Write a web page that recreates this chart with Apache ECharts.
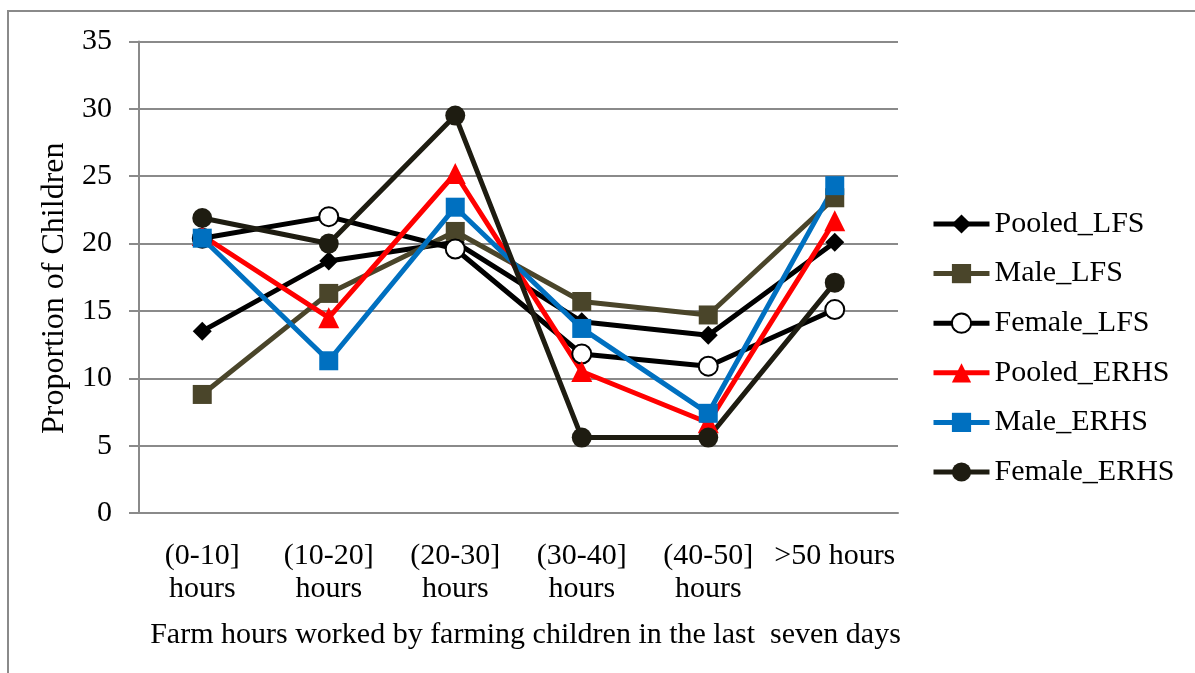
<!DOCTYPE html>
<html>
<head>
<meta charset="utf-8">
<script src="https://cdn.jsdelivr.net/npm/echarts@6/dist/echarts.min.js"></script>
<style>
  html, body { margin: 0; padding: 0; background: #fff; }
  #chart { width: 1195px; height: 673px; }
</style>
</head>
<body>
<div id="chart"></div>
<script>
// Share of farming children by weekly farm hours, LFS vs ERHS surveys
const categories = ['(0-10]\nhours', '(10-20]\nhours', '(20-30]\nhours', '(30-40]\nhours', '(40-50]\nhours', '>50 hours'];
const yTicks = [0, 5, 10, 15, 20, 25, 30, 35];

const pooledLFS   = [13.5, 18.7, 20.1, 14.2, 13.2, 20.1];
const maleLFS     = [8.8, 16.3, 20.9, 15.7, 14.7, 23.4];
const femaleLFS   = [20.4, 22.0, 19.6, 11.8, 10.9, 15.1];
const pooledERHS  = [20.6, 14.5, 25.2, 10.5, 6.7, 21.7];
const maleERHS    = [20.4, 11.3, 22.7, 13.7, 7.4, 24.3];
const femaleERHS  = [21.9, 20.0, 29.5, 5.6, 5.6, 17.1];

const FONT = '"Liberation Serif", "Times New Roman", serif';
const GRID_GRAY = '#8a8a8a';
const LINE_W = 5;

function lineSeries(name, data, lineColor, symbol, size, fill, border) {
  return {
    name: name,
    type: 'line',
    data: data,
    symbol: symbol,
    symbolSize: size,
    lineStyle: { color: lineColor, width: LINE_W },
    itemStyle: {
      color: fill || lineColor,
      borderColor: border || fill || lineColor,
      borderWidth: border ? 2 : 0
    },
    emphasis: { disabled: true },
    animation: false
  };
}

const chart = echarts.init(document.getElementById('chart'), null, { renderer: 'canvas' });

chart.setOption({
  backgroundColor: '#ffffff',
  animation: false,
  textStyle: { fontFamily: FONT },
  graphic: [{
    type: 'rect',
    shape: { x: 8, y: 11, width: 1250, height: 720 },
    style: { fill: 'none', stroke: GRID_GRAY, lineWidth: 2 },
    silent: true
  }],
  grid: { left: 139, right: 297, top: 41.5, bottom: 160, containLabel: false },
  legend: {
    orient: 'vertical',
    left: 926,
    top: 204,
    itemWidth: 56,
    itemHeight: 24,
    itemGap: 19.6,
    lineStyle: { width: LINE_W },
    textStyle: { fontFamily: FONT, fontSize: 30, color: '#000', lineHeight: 30 },
    data: ['Pooled_LFS', 'Male_LFS', 'Female_LFS', 'Pooled_ERHS', 'Male_ERHS', 'Female_ERHS']
  },
  xAxis: {
    type: 'category',
    data: categories,
    boundaryGap: true,
    axisLine: { show: true, lineStyle: { color: GRID_GRAY, width: 2 } },
    axisTick: { show: false },
    axisLabel: {
      interval: 0,
      margin: 27,
      fontFamily: FONT,
      fontSize: 30,
      lineHeight: 33,
      color: '#000'
    },
    name: 'Farm hours worked by farming children in the last  seven days',
    nameLocation: 'middle',
    nameGap: 107,
    nameTextStyle: { fontFamily: FONT, fontSize: 30, color: '#000', lineHeight: 30, padding: [0, 0, 0, 14] }
  },
  yAxis: {
    type: 'value',
    min: yTicks[0],
    max: yTicks[yTicks.length - 1],
    interval: 5,
    axisLine: { show: true, lineStyle: { color: GRID_GRAY, width: 2 } },
    axisTick: { show: true, length: 10, lineStyle: { color: GRID_GRAY, width: 2 } },
    splitLine: { show: true, lineStyle: { color: GRID_GRAY, width: 2 } },
    axisLabel: { margin: 27, fontFamily: FONT, fontSize: 30, color: '#000' },
    name: 'Proportion of Children',
    nameLocation: 'middle',
    nameGap: 68,
    nameTextStyle: { fontFamily: FONT, fontSize: 32, color: '#000', padding: [0, 22, 0, 0] }
  },
  series: [
    lineSeries('Pooled_LFS', pooledLFS, '#000000', 'diamond', 19),
    lineSeries('Male_LFS', maleLFS, '#4a452a', 'rect', 19),
    lineSeries('Female_LFS', femaleLFS, '#000000', 'circle', 19, '#ffffff', '#000000'),
    lineSeries('Pooled_ERHS', pooledERHS, '#ff0000', 'triangle', 21),
    lineSeries('Male_ERHS', maleERHS, '#0070c0', 'rect', 19),
    lineSeries('Female_ERHS', femaleERHS, '#1e1c11', 'circle', 20)
  ]
});
</script>
</body>
</html>
